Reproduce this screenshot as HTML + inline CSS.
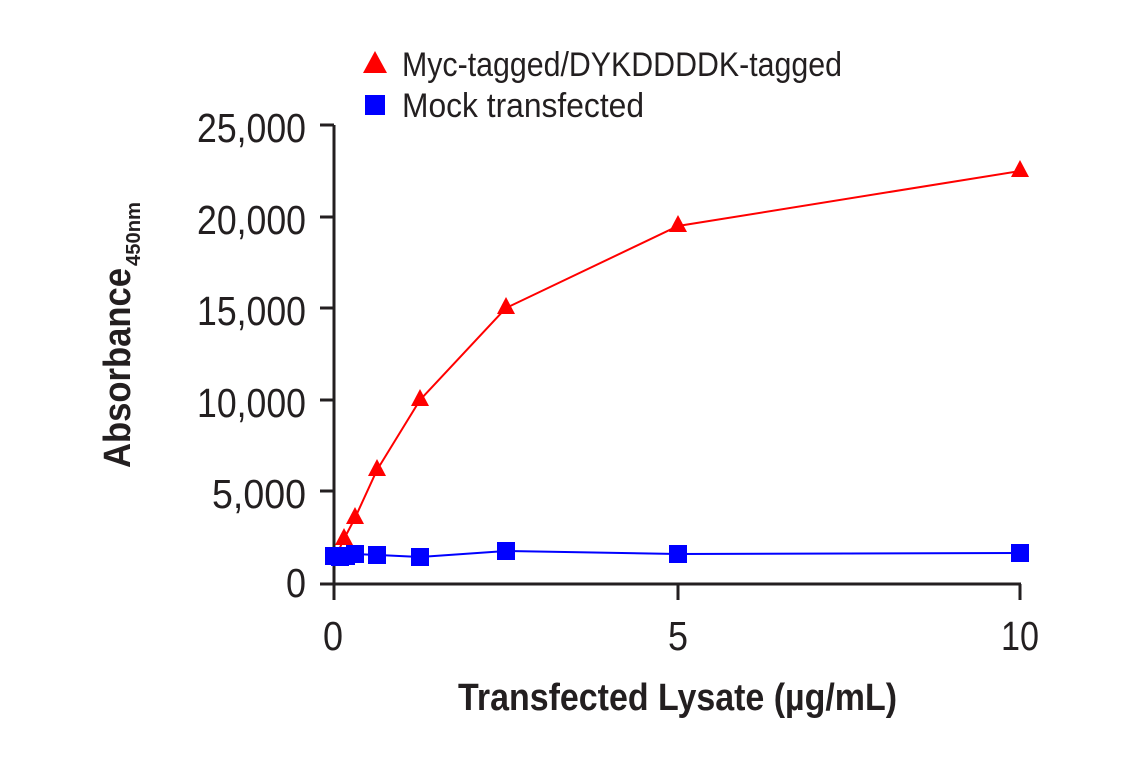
<!DOCTYPE html>
<html><head><meta charset="utf-8"><style>body{margin:0;background:#fff}svg{display:block}</style></head>
<body>
<svg width="1141" height="768" viewBox="0 0 1141 768" xmlns="http://www.w3.org/2000/svg" font-family="Liberation Sans, sans-serif">
<g stroke="#231f20" stroke-width="3" fill="none">
<line x1="334" y1="125" x2="334" y2="600"/>
<line x1="320" y1="584" x2="1021" y2="584"/>
<line x1="320" y1="125" x2="334" y2="125"/>
<line x1="320" y1="217" x2="334" y2="217"/>
<line x1="320" y1="308" x2="334" y2="308"/>
<line x1="320" y1="400" x2="334" y2="400"/>
<line x1="320" y1="491" x2="334" y2="491"/>
<line x1="678" y1="584" x2="678" y2="600"/>
<line x1="1020" y1="584" x2="1020" y2="600"/>
</g>
<g fill="#231f20" font-size="41" text-anchor="end">
<text x="306" y="142" textLength="109" lengthAdjust="spacingAndGlyphs">25,000</text>
<text x="306" y="234" textLength="109" lengthAdjust="spacingAndGlyphs">20,000</text>
<text x="306" y="325" textLength="109" lengthAdjust="spacingAndGlyphs">15,000</text>
<text x="306" y="417" textLength="109" lengthAdjust="spacingAndGlyphs">10,000</text>
<text x="306" y="508" textLength="94" lengthAdjust="spacingAndGlyphs">5,000</text>
<text x="306" y="597" textLength="20" lengthAdjust="spacingAndGlyphs">0</text>
</g>
<g fill="#231f20" font-size="41" text-anchor="middle">
<text x="333" y="650" textLength="20" lengthAdjust="spacingAndGlyphs">0</text>
<text x="678" y="650" textLength="20" lengthAdjust="spacingAndGlyphs">5</text>
<text x="1020" y="650" textLength="38" lengthAdjust="spacingAndGlyphs">10</text>
</g>
<text x="458" y="710" font-size="38" font-weight="bold" fill="#231f20" textLength="439" lengthAdjust="spacingAndGlyphs">Transfected Lysate (µg/mL)</text>
<g transform="translate(130,468) rotate(-90)">
<text x="0" y="0" font-size="38" font-weight="bold" fill="#231f20" textLength="200" lengthAdjust="spacingAndGlyphs">Absorbance</text>
<text x="202" y="10" font-size="20" font-weight="bold" fill="#231f20" textLength="64" lengthAdjust="spacingAndGlyphs">450nm</text>
</g>
<polygon points="375,51 363,73 387,73" fill="#f00"/>
<text x="402" y="76" font-size="34" fill="#231f20" textLength="440" lengthAdjust="spacingAndGlyphs">Myc-tagged/DYKDDDDK-tagged</text>
<rect x="365" y="95" width="20" height="20" fill="#00f"/>
<text x="402" y="117" font-size="34" fill="#231f20" textLength="242" lengthAdjust="spacingAndGlyphs">Mock transfected</text>
<polyline fill="none" stroke="#f00" stroke-width="2" points="336,556 344,539 355,518 377,470 420,400 506,308 678,226 1020,171"/>
<g fill="#f00">
<polygon points="344,528 335,545 353,545"/>
<polygon points="355,507 346,524 364,524"/>
<polygon points="377,459 368,476 386,476"/>
<polygon points="420,389 411,406 429,406"/>
<polygon points="506,297 497,314 515,314"/>
<polygon points="678,215 669,232 687,232"/>
<polygon points="1020,160 1011,177 1029,177"/>
</g>
<polyline fill="none" stroke="#00f" stroke-width="2" points="334,556 339,557 344,556 349,555 355,554 377,555 420,557 506,551 678,554 1020,553"/>
<g fill="#00f">
<rect x="325" y="547" width="18" height="18"/>
<rect x="331" y="548" width="18" height="18"/>
<rect x="337" y="547" width="18" height="18"/>
<rect x="346" y="545" width="18" height="18"/>
<rect x="368" y="546" width="18" height="18"/>
<rect x="411" y="548" width="18" height="18"/>
<rect x="497" y="542" width="18" height="18"/>
<rect x="669" y="545" width="18" height="18"/>
<rect x="1011" y="544" width="18" height="18"/>
</g>
</svg>
</body></html>
